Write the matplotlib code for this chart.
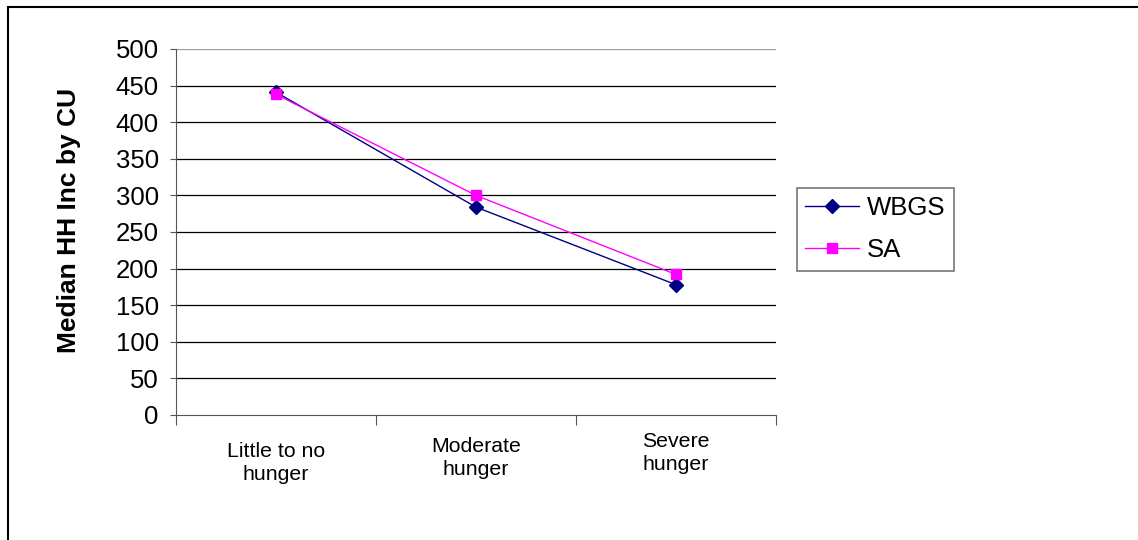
import matplotlib.pyplot as plt
from matplotlib.patches import Rectangle
from matplotlib.transforms import blended_transform_factory

categories = ["Little to no\nhunger", "Moderate\nhunger", "Severe\nhunger"]
wbgs = [441, 284, 178]
sa = [438, 300, 192]
yticks = [0, 50, 100, 150, 200, 250, 300, 350, 400, 450, 500]

plt.rcParams['font.family'] = ['Liberation Sans', 'DejaVu Sans']

W, H = 1138, 540
fig = plt.figure(figsize=(W / 100, H / 100), dpi=100)
# chart frame (only top and left edges visible)
fig.patches.append(Rectangle((8 / W, -0.1), 1.2, 1.1 - 7 / H,
                             transform=fig.transFigure, fill=False,
                             edgecolor='black', linewidth=1.5))

ax = fig.add_axes([176 / W, 1 - 415 / H, 600 / W, 366 / H])
x = [0.5, 1.5, 2.5]

for v in yticks[1:-1]:
    ax.axhline(v, color='black', linewidth=0.9, zorder=1)
ax.axhline(500, color='#a0a0a0', linewidth=1.0, zorder=1)

ax.plot(x, wbgs, color='#000080', marker='D', markersize=7.5, linewidth=1,
        label='WBGS', zorder=3)
ax.plot(x, sa, color='#ff00ff', marker='s', markersize=7, linewidth=1,
        label='SA', zorder=3)

ax.set_xlim(0, 3)
ax.set_ylim(0, 500)
ax.set_yticks(yticks)
ax.set_xticks([0, 1, 2, 3])
ax.set_xticklabels([])
ax.tick_params(axis='x', length=7, color='#555555')
ax.tick_params(axis='y', length=4.5, color='#555555', labelsize=18.5, pad=8)

# category labels (slightly staggered like the original)
tr = blended_transform_factory(ax.transData, fig.transFigure)
label_y = [463, 458, 453]
for xi, lab, yy in zip(x, categories, label_y):
    ax.text(xi, 1 - yy / H, lab, transform=tr, ha='center', va='center',
            multialignment='center', fontsize=15.3, linespacing=1.25)

for s in ['top', 'right']:
    ax.spines[s].set_visible(False)
ax.spines['left'].set_color('#555555')
ax.spines['bottom'].set_color('#555555')

fig.text(69 / W, 1 - 220 / H, 'Median HH Inc by CU', rotation=90,
         ha='center', va='center', fontsize=19, fontweight='bold')

leg = ax.legend(loc='upper left', bbox_to_anchor=(797 / W, 1 - 188 / H),
                bbox_transform=fig.transFigure, frameon=True, fancybox=False,
                fontsize=18.5, handlelength=2.1, borderpad=0.33, labelspacing=0.7,
                handletextpad=0.3, borderaxespad=0)
leg.get_frame().set_edgecolor('#555555')
leg.get_frame().set_linewidth(1.2)

fig.savefig('out.png', dpi=100)
